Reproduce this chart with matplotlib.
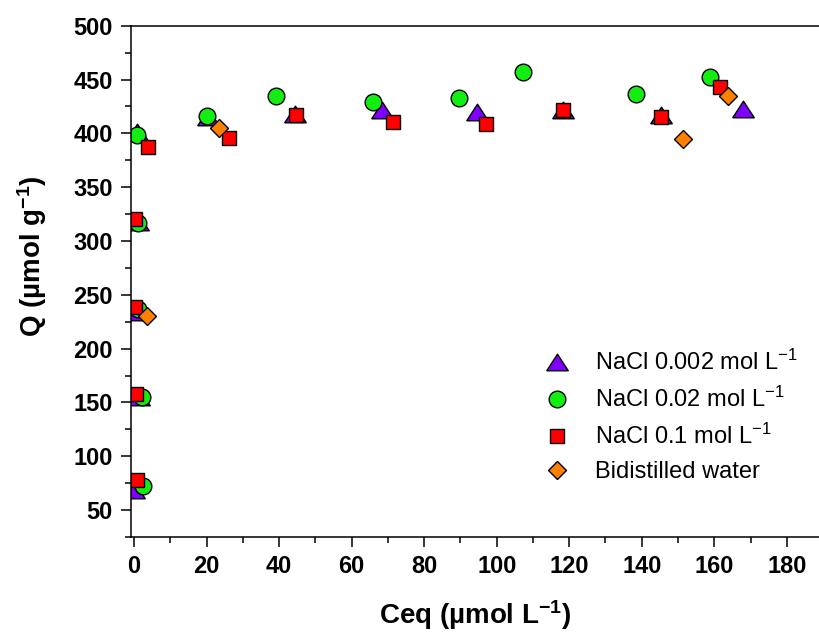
import matplotlib
matplotlib.use('Agg')
import matplotlib.pyplot as plt
from matplotlib.ticker import MultipleLocator

plt.rcParams['font.family'] = ['Liberation Sans', 'DejaVu Sans']
plt.rcParams['mathtext.fontset'] = 'custom'
plt.rcParams['mathtext.rm'] = 'Liberation Sans'
plt.rcParams['mathtext.bf'] = 'Liberation Sans:bold'
plt.rcParams['mathtext.default'] = 'regular'
plt.rcParams['axes.unicode_minus'] = False

# NaCl 0.002 mol/L (triangles)
ceq_002 = [0.1, 1.5, 0.8, 1.2, 0.7, 20.5, 44.4, 68.5, 94.5, 118.3, 145.2, 168.0]
q_002 = [69, 155, 234, 318, 401, 415, 418, 422, 420, 422, 417, 423]

# NaCl 0.02 mol/L (circles)
ceq_02 = [2.6, 2.1, 1.0, 1.0, 0.7, 20.0, 39.2, 65.8, 89.6, 107.2, 138.4, 158.9]
q_02 = [72, 155, 237, 317, 398, 416, 435, 429, 433, 457, 437, 452]

# NaCl 0.1 mol/L (squares)
ceq_1 = [0.9, 0.55, 0.4, 0.2, 3.9, 26.2, 44.6, 71.5, 97.1, 118.2, 145.3, 161.6]
q_1 = [78, 158, 239, 320, 387, 396, 417, 411, 409, 422, 415, 443]

# bidistilled water (diamonds)
ceq_w = [3.5, 23.4, 151.5, 163.9]
q_w = [230, 405, 395, 435]

labels = ['NaCl 0.002 mol L$^{-1}$', 'NaCl 0.02 mol L$^{-1}$',
          'NaCl 0.1 mol L$^{-1}$', 'Bidistilled water']

tri = [(-1, -0.77), (1, -0.77), (0, 0.77), (-1, -0.77)]

fig = plt.figure(figsize=(8.2, 6.35), dpi=100)
ax = fig.add_axes([131 / 820, 1 - 537 / 635, 699 / 820, (537 - 25.7) / 635])

ax.plot(ceq_002, q_002, ls='none', marker=tri, ms=15.5, mfc='#8000ff', mec='black', mew=1.0, label=labels[0])
ax.plot(ceq_02, q_02, ls='none', marker='o', ms=12, mfc='#12ee12', mec='black', mew=1.0, label=labels[1])
ax.plot(ceq_1, q_1, ls='none', marker='s', ms=10, mfc='#ff0000', mec='black', mew=1.0, label=labels[2])
ax.plot(ceq_w, q_w, ls='none', marker='D', ms=9.5, mfc='#ff8000', mec='black', mew=1.0, label=labels[3])

ax.set_xlim(-0.83, 191.9)
ax.set_ylim(25, 500)
ax.xaxis.set_major_locator(MultipleLocator(20))
ax.xaxis.set_minor_locator(MultipleLocator(10))
ax.yaxis.set_major_locator(MultipleLocator(50))
ax.yaxis.set_minor_locator(MultipleLocator(25))
ax.set_yticks(range(50, 501, 50))

ax.tick_params(which='major', direction='out', length=7.2, width=1.1, pad=6)
ax.tick_params(which='minor', direction='out', length=4.3, width=1.1)
for lab in ax.get_xticklabels() + ax.get_yticklabels():
    lab.set_fontsize(17)
    lab.set_fontweight('bold')
for sp in ax.spines.values():
    sp.set_linewidth(1.1)

ax.set_xlabel(r'Ceq (µmol L$^{\mathbf{-1}}$)', fontsize=20, fontweight='bold')
ax.set_ylabel(r'Q (µmol g$^{\mathbf{-1}}$)', fontsize=20, fontweight='bold')
ax.xaxis.set_label_coords(344 / 699, -0.12)
ax.yaxis.set_label_coords(-0.118, 0.55)

ax.legend(loc='upper left', bbox_to_anchor=(545 / 820, 1 - 350 / 635),
          bbox_transform=fig.transFigure, frameon=False, fontsize=17,
          handlelength=1.0, handletextpad=1.1, labelspacing=0.5,
          borderpad=0, borderaxespad=0)

fig.savefig('out.png', dpi=100)
